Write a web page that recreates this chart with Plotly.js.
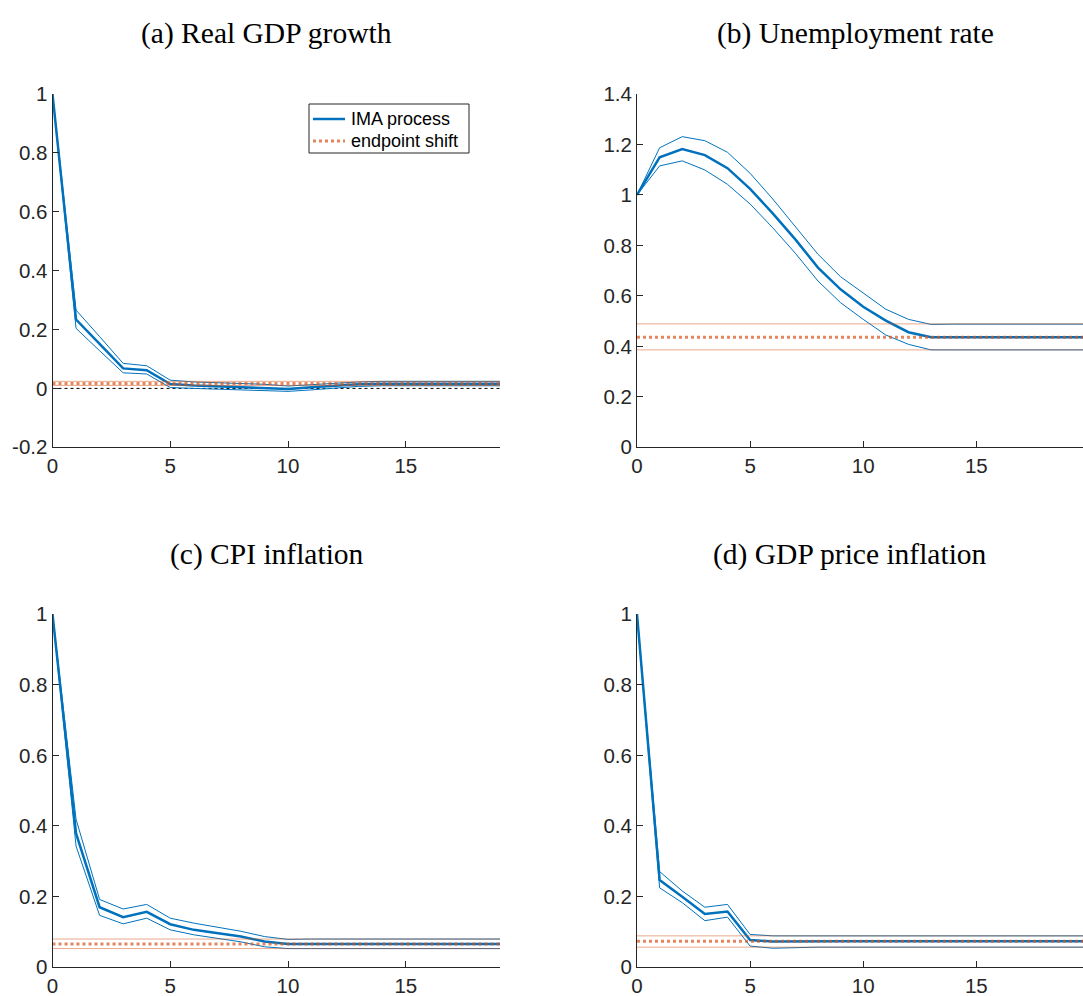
<!DOCTYPE html>
<html>
<head>
<meta charset="utf-8">
<script src="https://cdn.plot.ly/plotly-3.0.1.min.js"></script>
<style>html,body{margin:0;padding:0;background:#fff;}#chart{width:1083px;height:996px;}</style>
</head>
<body>
<div id="chart"></div>
<script>
// ---- data ----
const horizon = [0,1,2,3,4,5,6,7,8,9,10,11,12,13,14,15,16,17,18,19,20];

const titles = ["(a) Real GDP growth", "(b) Unemployment rate", "(c) CPI inflation", "(d) GDP price inflation"];
const legendNames = ["IMA process", "endpoint shift"];

const gdpMean  = [1.000,0.234,0.151,0.068,0.062,0.015,0.010,0.007,0.005,0.002,-0.002,0.004,0.010,0.014,0.016,0.016,0.016,0.016,0.016,0.016,0.016];
const gdpUpper = [1.000,0.266,0.176,0.085,0.077,0.028,0.022,0.020,0.018,0.014,0.008,0.013,0.019,0.022,0.024,0.024,0.024,0.024,0.024,0.024,0.024];
const gdpLower = [1.000,0.204,0.128,0.053,0.049,0.003,0.000,-0.002,-0.004,-0.008,-0.010,-0.005,0.002,0.007,0.009,0.009,0.009,0.009,0.009,0.009,0.009];
const gdpShift = [0.017, 0.010, 0.024];   // [estimate, lower, upper]

const unMean  = [1.000,1.149,1.182,1.158,1.106,1.024,0.927,0.824,0.712,0.626,0.557,0.502,0.456,0.436,0.436,0.436,0.436,0.436,0.436,0.436,0.436];
const unUpper = [1.000,1.187,1.231,1.215,1.169,1.086,0.984,0.874,0.765,0.676,0.610,0.547,0.507,0.487,0.488,0.488,0.488,0.488,0.488,0.488,0.488];
const unLower = [1.000,1.115,1.135,1.099,1.042,0.964,0.870,0.769,0.659,0.573,0.507,0.445,0.408,0.386,0.386,0.386,0.386,0.386,0.386,0.386,0.386];
const unShift = [0.436, 0.386, 0.489];

const cpiMean  = [1.000,0.379,0.170,0.142,0.157,0.122,0.106,0.096,0.087,0.073,0.066,0.066,0.066,0.066,0.066,0.066,0.066,0.066,0.066,0.066,0.066];
const cpiUpper = [1.000,0.419,0.192,0.165,0.178,0.139,0.125,0.113,0.102,0.087,0.079,0.080,0.080,0.080,0.080,0.080,0.080,0.080,0.080,0.080,0.080];
const cpiLower = [1.000,0.343,0.147,0.123,0.139,0.106,0.092,0.081,0.072,0.058,0.053,0.053,0.053,0.053,0.053,0.053,0.053,0.053,0.053,0.053,0.053];
const cpiShift = [0.066, 0.053, 0.080];

const pgdpMean  = [1.000,0.247,0.200,0.151,0.158,0.077,0.073,0.074,0.074,0.074,0.074,0.074,0.074,0.074,0.074,0.074,0.074,0.074,0.074,0.074,0.074];
const pgdpUpper = [1.000,0.271,0.216,0.170,0.178,0.093,0.089,0.089,0.089,0.089,0.089,0.089,0.089,0.089,0.089,0.089,0.089,0.089,0.089,0.089,0.089];
const pgdpLower = [1.000,0.225,0.183,0.132,0.142,0.060,0.054,0.056,0.057,0.057,0.057,0.057,0.057,0.057,0.057,0.057,0.057,0.057,0.057,0.057,0.057];
const pgdpShift = [0.074, 0.057, 0.089];

const yRanges = [[-0.2,1],[0,1.4],[0,1],[0,1]];
const yTicks  = [[-0.2,0,0.2,0.4,0.6,0.8,1],[0,0.2,0.4,0.6,0.8,1,1.2,1.4],[0,0.2,0.4,0.6,0.8,1],[0,0.2,0.4,0.6,0.8,1]];
const yTickText = [["-0.2","0","0.2","0.4","0.6","0.8","1"],["0","0.2","0.4","0.6","0.8","1","1.2","1.4"],["0","0.2","0.4","0.6","0.8","1"],["0","0.2","0.4","0.6","0.8","1"]];
const xTicks = [0,5,10,15];

// ---- styling ----
const BLUE = '#0072BD';
const ORANGE = '#D95319';
const AX = '#262626';
const W = 1083, H = 996;

const panels = [
  {mean: gdpMean, up: gdpUpper, lo: gdpLower, shift: gdpShift, xa: 'x',  ya: 'y'},
  {mean: unMean,  up: unUpper,  lo: unLower,  shift: unShift,  xa: 'x2', ya: 'y2'},
  {mean: cpiMean, up: cpiUpper, lo: cpiLower, shift: cpiShift, xa: 'x3', ya: 'y3'},
  {mean: pgdpMean,up: pgdpUpper,lo: pgdpLower,shift: pgdpShift,xa: 'x4', ya: 'y4'}
];

const traces = [];
const xEnd = horizon[horizon.length - 1];
panels.forEach((p, i) => {
  const common = {x: horizon, xaxis: p.xa, yaxis: p.ya, mode: 'lines', hoverinfo: 'skip', showlegend: false};
  if (i === 0) {
    traces.push({x: [0, xEnd], y: [0, 0], xaxis: p.xa, yaxis: p.ya, mode: 'lines',
      line: {color: '#000', width: 1, dash: 'dot'}, showlegend: false, hoverinfo: 'skip'});
  }
  traces.push(Object.assign({}, common, {y: p.up, line: {color: BLUE, width: 1}}));
  traces.push(Object.assign({}, common, {y: p.lo, line: {color: BLUE, width: 1}}));
  traces.push(Object.assign({}, common, {y: p.mean, line: {color: BLUE, width: 2.5}, name: legendNames[0]}));
  traces.push({x: [0, xEnd], y: [p.shift[2], p.shift[2]], xaxis: p.xa, yaxis: p.ya, mode: 'lines',
    line: {color: ORANGE, width: 1}, opacity: 0.5, showlegend: false, hoverinfo: 'skip'});
  traces.push({x: [0, xEnd], y: [p.shift[1], p.shift[1]], xaxis: p.xa, yaxis: p.ya, mode: 'lines',
    line: {color: ORANGE, width: 1}, opacity: 0.5, showlegend: false, hoverinfo: 'skip'});
  traces.push({x: [0, xEnd], y: [p.shift[0], p.shift[0]], xaxis: p.xa, yaxis: p.ya, mode: 'lines',
    line: {color: ORANGE, width: 3, dash: 'dot'}, opacity: 0.7, name: legendNames[1],
    showlegend: false, hoverinfo: 'skip'});
});

// axis pixel geometry
const leftX = [52.5, 500], rightX = [637, 1083];
const topY = [94, 447.3], botY = [614, 967.3];
const dom = (a, b, tot) => [a / tot, b / tot];
const ydom = (t, b) => [(H - b) / H, (H - t) / H];
const xRangeRight = (1083 - 637) / 22.62;
const TICKFONT = {family: 'Liberation Sans, Arial, sans-serif', size: 20.5, color: AX};

function xa(domain, range, anchor) {
  return {domain: domain, range: range, anchor: anchor, tickmode: 'array', tickvals: xTicks,
    ticktext: xTicks.map(String), ticks: 'inside', ticklen: 6, tickwidth: 1, tickcolor: AX,
    showline: true, linecolor: AX, linewidth: 1, showgrid: false, zeroline: false,
    tickfont: TICKFONT, fixedrange: true};
}
function ya(domain, i, anchor) {
  return {domain: domain, range: yRanges[i], anchor: anchor, tickmode: 'array', tickvals: yTicks[i],
    ticktext: yTickText[i], ticks: 'inside', ticklen: 6, tickwidth: 1, tickcolor: AX,
    showline: true, linecolor: AX, linewidth: 1, showgrid: false, zeroline: false,
    tickfont: TICKFONT, fixedrange: true};
}

const px = v => v / W, py = v => (H - v) / H;

const titlePos = [[266.5, 34], [855, 34], [266.5, 554], [850, 554]];
const annotations = titles.map((t, i) => ({
  text: t, xref: 'paper', yref: 'paper', x: px(titlePos[i][0]), y: py(titlePos[i][1]),
  xanchor: 'center', yanchor: 'middle', showarrow: false,
  font: {family: 'Liberation Serif, Times New Roman, serif', size: 29.5, color: '#000'}
}));

// legend box (drawn in panel a)
const legRows = [119, 141];
legendNames.forEach((n, k) => annotations.push({
  text: n, xref: 'paper', yref: 'paper', x: px(349), y: py(legRows[k]), xanchor: 'left', yanchor: 'middle',
  showarrow: false, font: {family: 'Liberation Sans, Arial, sans-serif', size: 18, color: '#000'}
}));
const shapes = [
  {type: 'rect', xref: 'paper', yref: 'paper', x0: px(309), x1: px(469), y0: py(104), y1: py(153),
    line: {color: AX, width: 1}, fillcolor: '#fff', layer: 'above'},
  {type: 'line', xref: 'paper', yref: 'paper', x0: px(313), x1: px(345), y0: py(legRows[0]), y1: py(legRows[0]),
    line: {color: BLUE, width: 2.5}, layer: 'above'},
  {type: 'line', xref: 'paper', yref: 'paper', x0: px(313), x1: px(345), y0: py(legRows[1]), y1: py(legRows[1]),
    line: {color: ORANGE, width: 3, dash: 'dot'}, opacity: 0.7, layer: 'above'}
];

const layout = {
  width: W, height: H, margin: {l: 0, r: 0, t: 0, b: 0}, paper_bgcolor: '#fff', plot_bgcolor: '#fff',
  showlegend: false,
  xaxis:  xa(dom(leftX[0], leftX[1], W), [0, 19], 'y'),
  yaxis:  ya(ydom(topY[0], topY[1]), 0, 'x'),
  xaxis2: xa(dom(rightX[0], rightX[1], W), [0, xRangeRight], 'y2'),
  yaxis2: ya(ydom(topY[0], topY[1]), 1, 'x2'),
  xaxis3: xa(dom(leftX[0], leftX[1], W), [0, 19], 'y3'),
  yaxis3: ya(ydom(botY[0], botY[1]), 2, 'x3'),
  xaxis4: xa(dom(rightX[0], rightX[1], W), [0, xRangeRight], 'y4'),
  yaxis4: ya(ydom(botY[0], botY[1]), 3, 'x4'),
  annotations: annotations,
  shapes: shapes
};

Plotly.newPlot('chart', traces, layout, {displayModeBar: false, staticPlot: true});
</script>
</body>
</html>
